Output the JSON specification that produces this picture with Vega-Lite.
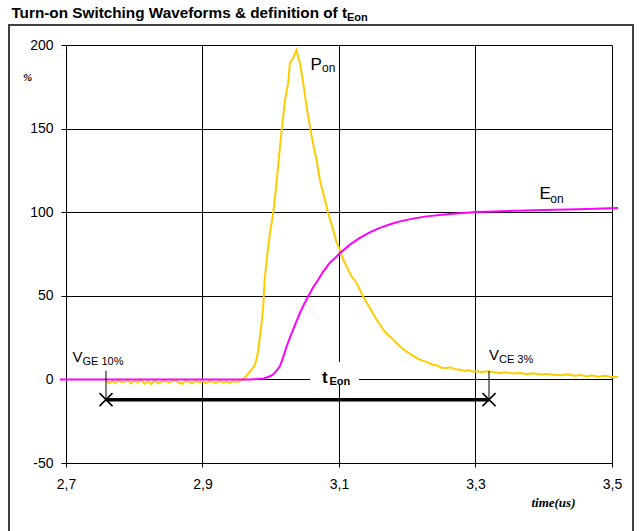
{
  "$schema": "https://vega.github.io/schema/vega-lite/v6.json",
  "width": 546,
  "height": 418,
  "autosize": {"type": "none"},
  "padding": {"left": 66, "top": 45, "right": 31, "bottom": 68},
  "background": "white",
  "datasets": {
    "pon": [
      {"t": 2.759, "v": -1.0}, {"t": 2.763, "v": -2.2}, {"t": 2.768, "v": -1.0}, {"t": 2.772, "v": -2.0}, {"t": 2.777, "v": -0.5},
      {"t": 2.782, "v": -1.8}, {"t": 2.786, "v": -1.2}, {"t": 2.791, "v": -0.6}, {"t": 2.795, "v": -2.4}, {"t": 2.8, "v": -0.8},
      {"t": 2.805, "v": -1.6}, {"t": 2.81, "v": -0.4}, {"t": 2.815, "v": -2.6}, {"t": 2.82, "v": -1.0}, {"t": 2.825, "v": -2.8},
      {"t": 2.83, "v": -0.6}, {"t": 2.835, "v": -2.2}, {"t": 2.84, "v": -1.4}, {"t": 2.845, "v": -0.8}, {"t": 2.85, "v": -2.0},
      {"t": 2.855, "v": -1.2}, {"t": 2.86, "v": -0.5}, {"t": 2.865, "v": -1.9}, {"t": 2.87, "v": -2.6}, {"t": 2.875, "v": -0.9},
      {"t": 2.88, "v": -1.5}, {"t": 2.885, "v": -2.3}, {"t": 2.89, "v": -0.7}, {"t": 2.895, "v": -1.8}, {"t": 2.9, "v": -1.1},
      {"t": 2.905, "v": -2.4}, {"t": 2.91, "v": -0.9}, {"t": 2.915, "v": -1.7}, {"t": 2.92, "v": -2.1}, {"t": 2.925, "v": -0.8},
      {"t": 2.93, "v": -1.9}, {"t": 2.935, "v": -1.2}, {"t": 2.94, "v": -2.2}, {"t": 2.945, "v": -1.0}, {"t": 2.95, "v": -1.5},
      {"t": 2.955, "v": -0.8}, {"t": 2.96, "v": 0.2}, {"t": 2.966, "v": 3.0}, {"t": 2.972, "v": 5.8}, {"t": 2.976, "v": 8.0},
      {"t": 2.979, "v": 11.8}, {"t": 2.982, "v": 18.0}, {"t": 2.984, "v": 25.7}, {"t": 2.987, "v": 35.0}, {"t": 2.989, "v": 43.7},
      {"t": 2.991, "v": 59.6}, {"t": 2.995, "v": 75.0}, {"t": 2.999, "v": 88.0}, {"t": 3.0036, "v": 99.5}, {"t": 3.007, "v": 112.0},
      {"t": 3.011, "v": 128.4}, {"t": 3.016, "v": 149.3}, {"t": 3.021, "v": 167.3}, {"t": 3.0255, "v": 177.3}, {"t": 3.028, "v": 189.2},
      {"t": 3.031, "v": 191.0}, {"t": 3.0328, "v": 192.2}, {"t": 3.0355, "v": 195.0}, {"t": 3.0378, "v": 197.2}, {"t": 3.04, "v": 193.0},
      {"t": 3.0427, "v": 189.2}, {"t": 3.0475, "v": 177.3}, {"t": 3.0525, "v": 163.3}, {"t": 3.0573, "v": 151.3}, {"t": 3.062, "v": 141.0},
      {"t": 3.0671, "v": 131.4}, {"t": 3.0719, "v": 119.4}, {"t": 3.0793, "v": 107.5}, {"t": 3.0841, "v": 99.5}, {"t": 3.0914, "v": 89.5},
      {"t": 3.0965, "v": 82.0}, {"t": 3.1012, "v": 77.6}, {"t": 3.106, "v": 72.0}, {"t": 3.111, "v": 67.6}, {"t": 3.118, "v": 62.0},
      {"t": 3.1257, "v": 57.7}, {"t": 3.1353, "v": 49.6}, {"t": 3.1452, "v": 42.7}, {"t": 3.155, "v": 35.7}, {"t": 3.16, "v": 33.0},
      {"t": 3.1646, "v": 29.7}, {"t": 3.172, "v": 26.5}, {"t": 3.1793, "v": 23.8}, {"t": 3.189, "v": 19.8}, {"t": 3.1989, "v": 16.7},
      {"t": 3.208, "v": 14.2}, {"t": 3.2184, "v": 11.8}, {"t": 3.228, "v": 10.5}, {"t": 3.2378, "v": 8.8}, {"t": 3.245, "v": 8.2},
      {"t": 3.25, "v": 7.0}, {"t": 3.2575, "v": 6.8}, {"t": 3.263, "v": 7.3}, {"t": 3.27, "v": 6.0}, {"t": 3.277, "v": 5.8},
      {"t": 3.285, "v": 5.0}, {"t": 3.29, "v": 5.6}, {"t": 3.2955, "v": 4.6}, {"t": 3.3014, "v": 4.8}, {"t": 3.31, "v": 4.5},
      {"t": 3.3184, "v": 4.8}, {"t": 3.325, "v": 4.4}, {"t": 3.335, "v": 3.8}, {"t": 3.345, "v": 4.3}, {"t": 3.355, "v": 3.5},
      {"t": 3.365, "v": 3.8}, {"t": 3.375, "v": 3.2}, {"t": 3.385, "v": 3.6}, {"t": 3.395, "v": 2.9}, {"t": 3.405, "v": 3.3},
      {"t": 3.414, "v": 2.8}, {"t": 3.425, "v": 2.5}, {"t": 3.435, "v": 3.0}, {"t": 3.445, "v": 2.2}, {"t": 3.455, "v": 2.6},
      {"t": 3.4625, "v": 1.8}, {"t": 3.47, "v": 2.4}, {"t": 3.48, "v": 1.6}, {"t": 3.49, "v": 2.2}, {"t": 3.5, "v": 1.5},
      {"t": 3.509, "v": 1.4}
    ],
    "eon": [
      {"t": 2.691, "v": 0}, {"t": 2.8, "v": 0}, {"t": 2.9, "v": 0}, {"t": 2.97, "v": 0}, {"t": 2.98, "v": 0.2},
      {"t": 2.99, "v": 0.6}, {"t": 3.0, "v": 2.0}, {"t": 3.005, "v": 3.5}, {"t": 3.0134, "v": 7.8}, {"t": 3.018, "v": 13.0},
      {"t": 3.0232, "v": 19.7}, {"t": 3.028, "v": 24.8}, {"t": 3.0328, "v": 29.7}, {"t": 3.038, "v": 35.0}, {"t": 3.0427, "v": 39.7},
      {"t": 3.0488, "v": 45.0}, {"t": 3.0548, "v": 49.6}, {"t": 3.062, "v": 55.0}, {"t": 3.0695, "v": 59.6}, {"t": 3.0768, "v": 64.5},
      {"t": 3.0866, "v": 69.8}, {"t": 3.095, "v": 72.9}, {"t": 3.1012, "v": 75.4}, {"t": 3.1159, "v": 80.6}, {"t": 3.1305, "v": 84.6},
      {"t": 3.145, "v": 87.9}, {"t": 3.1598, "v": 90.6}, {"t": 3.175, "v": 92.8}, {"t": 3.1891, "v": 94.5}, {"t": 3.21, "v": 96.3},
      {"t": 3.2282, "v": 97.5}, {"t": 3.2623, "v": 98.9}, {"t": 3.3014, "v": 100.1}, {"t": 3.3843, "v": 101.1}, {"t": 3.45, "v": 101.8},
      {"t": 3.5088, "v": 102.5}
    ],
    "ends": [
      {"t": 2.7586, "v": -12.1},
      {"t": 3.3198, "v": -12.1}
    ]
  },
  "encoding": {
    "x": {"field": "t", "type": "quantitative", "title": "time(us)", "scale": {"domain": [2.7, 3.5], "nice": false, "zero": false},
      "axis": {"values": [2.7, 2.9, 3.1, 3.3, 3.5], "labelExpr": "replace(format(datum.value, '.1f'), '.', ',')",
        "titleFont": "Liberation Serif", "titleFontStyle": "italic", "titleFontWeight": "bold", "titleFontSize": 13,
        "titleAlign": "right", "titleX": 509, "titleY": 43, "titleBaseline": "alphabetic", "tickSize": 4, "labelPadding": 10}},
    "y": {"field": "v", "type": "quantitative", "title": "%", "scale": {"domain": [-50, 200], "nice": false, "zero": false},
      "axis": {"values": [-50, 0, 50, 100, 150, 200], "labelExpr": "datum.value < 0 ? '-' + abs(datum.value) : '' + datum.value",
        "titleAngle": 0, "titleX": -39, "titleY": 32,
        "titleAlign": "center", "titleBaseline": "middle", "titleFont": "Liberation Serif", "titleFontStyle": "italic",
        "titleFontWeight": "bold", "titleFontSize": 11, "tickSize": 5, "labelPadding": 8}}
  },
  "layer": [
    {
      "data": {"values": [{"t": 2.6165, "v": 212, "t2": 3.5308, "v2": -95}]},
      "mark": {"type": "rect", "filled": false, "stroke": "#404040", "strokeWidth": 2},
      "encoding": {"x2": {"field": "t2"}, "y2": {"field": "v2"}}
    },
    {
      "data": {"values": [{"t": 3.0577, "v": 10.4, "t2": 3.1293, "v2": -3.0}]},
      "mark": {"type": "rect", "color": "white"},
      "encoding": {"x2": {"field": "t2"}, "y2": {"field": "v2"}}
    },
    {
      "data": {"name": "pon"},
      "mark": {"type": "line", "color": "#FFCC00", "strokeWidth": 2}
    },
    {
      "data": {"name": "eon"},
      "mark": {"type": "line", "color": "#FF00FF", "strokeWidth": 2}
    },
    {
      "data": {"name": "ends"},
      "mark": {"type": "line", "color": "#000", "strokeWidth": 3.5}
    },
    {
      "data": {"values": [{"t": 2.7586, "v": 5.2, "v2": -12.1}, {"t": 3.3198, "v": 5.0, "v2": -12.1}]},
      "mark": {"type": "rule", "color": "#000", "strokeWidth": 1},
      "encoding": {"y2": {"field": "v2"}}
    },
    {
      "data": {"name": "ends"},
      "mark": {"type": "point", "shape": "M-1,-1L1,1M-1,1L1,-1", "size": 170, "filled": false, "color": "#000", "strokeWidth": 1.5, "opacity": 1}
    },
    {
      "data": {"values": [{"t": 2.62, "v": 216.0, "label": "Turn-on Switching Waveforms & definition of t"}]},
      "mark": {"type": "text", "font": "Liberation Sans", "fontSize": 15.3, "fontWeight": "bold", "align": "left", "baseline": "alphabetic", "color": "#000"},
      "encoding": {"text": {"field": "label"}}
    },
    {
      "data": {"values": [{"t": 3.1117, "v": 214.2, "label": "Eon"}, {"t": 3.086, "v": -3.5, "label": "Eon"}]},
      "mark": {"type": "text", "font": "Liberation Sans", "fontSize": 11, "fontWeight": "bold", "align": "left", "baseline": "alphabetic", "color": "#000"},
      "encoding": {"text": {"field": "label"}}
    },
    {
      "data": {"values": [{"t": 3.0751, "v": -2.3, "label": "t"}]},
      "mark": {"type": "text", "font": "Liberation Sans", "fontSize": 17, "fontWeight": "bold", "align": "left", "baseline": "alphabetic", "color": "#000"},
      "encoding": {"text": {"field": "label"}}
    },
    {
      "data": {"values": [{"t": 3.0582, "v": 185.0, "label": "P"}, {"t": 3.3938, "v": 107.7, "label": "E"}]},
      "mark": {"type": "text", "font": "Liberation Sans", "fontSize": 17, "align": "left", "baseline": "alphabetic", "color": "#000"},
      "encoding": {"text": {"field": "label"}}
    },
    {
      "data": {"values": [{"t": 3.0751, "v": 184.0, "label": "on"}, {"t": 3.4096, "v": 105.8, "label": "on"}]},
      "mark": {"type": "text", "font": "Liberation Sans", "fontSize": 12, "align": "left", "baseline": "alphabetic", "color": "#000"},
      "encoding": {"text": {"field": "label"}}
    },
    {
      "data": {"values": [{"t": 2.7095, "v": 10.2, "label": "V"}, {"t": 3.3198, "v": 11.6, "label": "V"}]},
      "mark": {"type": "text", "font": "Liberation Sans", "fontSize": 15, "align": "left", "baseline": "alphabetic", "color": "#000"},
      "encoding": {"text": {"field": "label"}}
    },
    {
      "data": {"values": [{"t": 2.7242, "v": 8.6, "label": "GE 10%"}, {"t": 3.3344, "v": 10.0, "label": "CE 3%"}]},
      "mark": {"type": "text", "font": "Liberation Sans", "fontSize": 11, "align": "left", "baseline": "alphabetic", "color": "#000"},
      "encoding": {"text": {"field": "label"}}
    }
  ],
  "config": {
    "view": {"stroke": null},
    "axis": {
      "labelFont": "Liberation Sans", "labelFontSize": 14, "labelColor": "#000",
      "grid": true, "gridColor": "#000", "gridWidth": 1, "gridOpacity": 1,
      "domainColor": "#000", "domainWidth": 1, "tickColor": "#000", "tickWidth": 1,
      "titleColor": "#000", "labelFlush": false, "labelOverlap": false
    }
  }
}
